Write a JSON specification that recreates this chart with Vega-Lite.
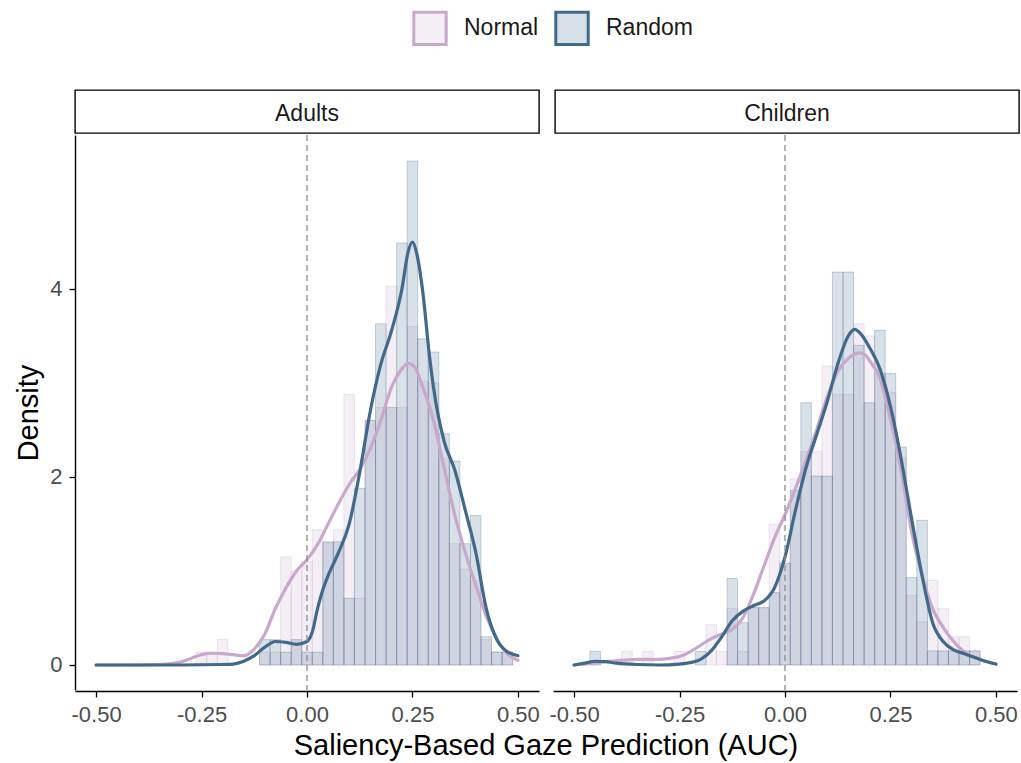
{
  "$schema": "https://vega.github.io/schema/vega-lite/v6.json",
  "background": "white",
  "padding": {"left": 14, "top": 10, "right": 0, "bottom": 0},
  "datasets": {
    "strips": [{"group": "Adults"}, {"group": "Children"}],
    "auc": [
      {"group": "Adults", "series": "Normal", "kind": "bar", "lo": -0.2625, "hi": -0.2375, "density": 0.137},
      {"group": "Adults", "series": "Normal", "kind": "bar", "lo": -0.2375, "hi": -0.2125, "density": 0.137},
      {"group": "Adults", "series": "Normal", "kind": "bar", "lo": -0.2125, "hi": -0.1875, "density": 0.274},
      {"group": "Adults", "series": "Normal", "kind": "bar", "lo": -0.1125, "hi": -0.0875, "density": 0.137},
      {"group": "Adults", "series": "Normal", "kind": "bar", "lo": -0.0875, "hi": -0.0625, "density": 0.137},
      {"group": "Adults", "series": "Normal", "kind": "bar", "lo": -0.0625, "hi": -0.0375, "density": 1.15},
      {"group": "Adults", "series": "Normal", "kind": "bar", "lo": -0.0375, "hi": -0.0125, "density": 1.0},
      {"group": "Adults", "series": "Normal", "kind": "bar", "lo": -0.0125, "hi": 0.0125, "density": 1.1},
      {"group": "Adults", "series": "Normal", "kind": "bar", "lo": 0.0125, "hi": 0.0375, "density": 1.44},
      {"group": "Adults", "series": "Normal", "kind": "bar", "lo": 0.0375, "hi": 0.0625, "density": 1.3},
      {"group": "Adults", "series": "Normal", "kind": "bar", "lo": 0.0625, "hi": 0.0875, "density": 1.44},
      {"group": "Adults", "series": "Normal", "kind": "bar", "lo": 0.0875, "hi": 0.1125, "density": 2.88},
      {"group": "Adults", "series": "Normal", "kind": "bar", "lo": 0.1125, "hi": 0.1375, "density": 0.71},
      {"group": "Adults", "series": "Normal", "kind": "bar", "lo": 0.1375, "hi": 0.1625, "density": 2.6},
      {"group": "Adults", "series": "Normal", "kind": "bar", "lo": 0.1625, "hi": 0.1875, "density": 2.74},
      {"group": "Adults", "series": "Normal", "kind": "bar", "lo": 0.1875, "hi": 0.2125, "density": 4.03},
      {"group": "Adults", "series": "Normal", "kind": "bar", "lo": 0.2125, "hi": 0.2375, "density": 2.74},
      {"group": "Adults", "series": "Normal", "kind": "bar", "lo": 0.2375, "hi": 0.2625, "density": 3.6},
      {"group": "Adults", "series": "Normal", "kind": "bar", "lo": 0.2625, "hi": 0.2875, "density": 3.02},
      {"group": "Adults", "series": "Normal", "kind": "bar", "lo": 0.2875, "hi": 0.3125, "density": 3.0},
      {"group": "Adults", "series": "Normal", "kind": "bar", "lo": 0.3125, "hi": 0.3375, "density": 2.2},
      {"group": "Adults", "series": "Normal", "kind": "bar", "lo": 0.3375, "hi": 0.3625, "density": 1.29},
      {"group": "Adults", "series": "Normal", "kind": "bar", "lo": 0.3625, "hi": 0.3875, "density": 1.02},
      {"group": "Adults", "series": "Normal", "kind": "bar", "lo": 0.3875, "hi": 0.4125, "density": 0.9},
      {"group": "Adults", "series": "Normal", "kind": "bar", "lo": 0.4125, "hi": 0.4375, "density": 0.27},
      {"group": "Adults", "series": "Normal", "kind": "bar", "lo": 0.4375, "hi": 0.4625, "density": 0.14},
      {"group": "Adults", "series": "Normal", "kind": "bar", "lo": 0.4625, "hi": 0.4875, "density": 0.14},

      {"group": "Children", "series": "Normal", "kind": "bar", "lo": -0.3875, "hi": -0.3625, "density": 0.145},
      {"group": "Children", "series": "Normal", "kind": "bar", "lo": -0.3375, "hi": -0.3125, "density": 0.145},
      {"group": "Children", "series": "Normal", "kind": "bar", "lo": -0.2625, "hi": -0.2375, "density": 0.145},
      {"group": "Children", "series": "Normal", "kind": "bar", "lo": -0.1875, "hi": -0.1625, "density": 0.43},
      {"group": "Children", "series": "Normal", "kind": "bar", "lo": -0.1625, "hi": -0.1375, "density": 0.145},
      {"group": "Children", "series": "Normal", "kind": "bar", "lo": -0.1375, "hi": -0.1125, "density": 0.6},
      {"group": "Children", "series": "Normal", "kind": "bar", "lo": -0.1125, "hi": -0.0875, "density": 0.145},
      {"group": "Children", "series": "Normal", "kind": "bar", "lo": -0.0875, "hi": -0.0625, "density": 0.61},
      {"group": "Children", "series": "Normal", "kind": "bar", "lo": -0.0625, "hi": -0.0375, "density": 0.61},
      {"group": "Children", "series": "Normal", "kind": "bar", "lo": -0.0375, "hi": -0.0125, "density": 1.5},
      {"group": "Children", "series": "Normal", "kind": "bar", "lo": -0.0125, "hi": 0.0125, "density": 1.1},
      {"group": "Children", "series": "Normal", "kind": "bar", "lo": 0.0125, "hi": 0.0375, "density": 1.98},
      {"group": "Children", "series": "Normal", "kind": "bar", "lo": 0.0375, "hi": 0.0625, "density": 2.27},
      {"group": "Children", "series": "Normal", "kind": "bar", "lo": 0.0625, "hi": 0.0875, "density": 2.27},
      {"group": "Children", "series": "Normal", "kind": "bar", "lo": 0.0875, "hi": 0.1125, "density": 3.18},
      {"group": "Children", "series": "Normal", "kind": "bar", "lo": 0.1125, "hi": 0.1375, "density": 2.88},
      {"group": "Children", "series": "Normal", "kind": "bar", "lo": 0.1375, "hi": 0.1625, "density": 2.88},
      {"group": "Children", "series": "Normal", "kind": "bar", "lo": 0.1625, "hi": 0.1875, "density": 3.63},
      {"group": "Children", "series": "Normal", "kind": "bar", "lo": 0.1875, "hi": 0.2125, "density": 3.5},
      {"group": "Children", "series": "Normal", "kind": "bar", "lo": 0.2125, "hi": 0.2375, "density": 3.1},
      {"group": "Children", "series": "Normal", "kind": "bar", "lo": 0.2375, "hi": 0.2625, "density": 2.9},
      {"group": "Children", "series": "Normal", "kind": "bar", "lo": 0.2625, "hi": 0.2875, "density": 2.2},
      {"group": "Children", "series": "Normal", "kind": "bar", "lo": 0.2875, "hi": 0.3125, "density": 0.74},
      {"group": "Children", "series": "Normal", "kind": "bar", "lo": 0.3125, "hi": 0.3375, "density": 0.46},
      {"group": "Children", "series": "Normal", "kind": "bar", "lo": 0.3375, "hi": 0.3625, "density": 0.9},
      {"group": "Children", "series": "Normal", "kind": "bar", "lo": 0.3625, "hi": 0.3875, "density": 0.6},
      {"group": "Children", "series": "Normal", "kind": "bar", "lo": 0.3875, "hi": 0.4125, "density": 0.3},
      {"group": "Children", "series": "Normal", "kind": "bar", "lo": 0.4125, "hi": 0.4375, "density": 0.3},
      {"group": "Children", "series": "Normal", "kind": "bar", "lo": 0.4375, "hi": 0.4625, "density": 0.15},

      {"group": "Adults", "series": "Random", "kind": "bar", "lo": -0.1125, "hi": -0.0875, "density": 0.27},
      {"group": "Adults", "series": "Random", "kind": "bar", "lo": -0.0875, "hi": -0.0625, "density": 0.27},
      {"group": "Adults", "series": "Random", "kind": "bar", "lo": -0.0625, "hi": -0.0375, "density": 0.137},
      {"group": "Adults", "series": "Random", "kind": "bar", "lo": -0.0375, "hi": -0.0125, "density": 0.27},
      {"group": "Adults", "series": "Random", "kind": "bar", "lo": -0.0125, "hi": 0.0125, "density": 0.137},
      {"group": "Adults", "series": "Random", "kind": "bar", "lo": 0.0125, "hi": 0.0375, "density": 0.137},
      {"group": "Adults", "series": "Random", "kind": "bar", "lo": 0.0375, "hi": 0.0625, "density": 1.31},
      {"group": "Adults", "series": "Random", "kind": "bar", "lo": 0.0625, "hi": 0.0875, "density": 1.31},
      {"group": "Adults", "series": "Random", "kind": "bar", "lo": 0.0875, "hi": 0.1125, "density": 0.71},
      {"group": "Adults", "series": "Random", "kind": "bar", "lo": 0.1125, "hi": 0.1375, "density": 1.88},
      {"group": "Adults", "series": "Random", "kind": "bar", "lo": 0.1375, "hi": 0.1625, "density": 2.6},
      {"group": "Adults", "series": "Random", "kind": "bar", "lo": 0.1625, "hi": 0.1875, "density": 3.63},
      {"group": "Adults", "series": "Random", "kind": "bar", "lo": 0.1875, "hi": 0.2125, "density": 2.74},
      {"group": "Adults", "series": "Random", "kind": "bar", "lo": 0.2125, "hi": 0.2375, "density": 4.49},
      {"group": "Adults", "series": "Random", "kind": "bar", "lo": 0.2375, "hi": 0.2625, "density": 5.36},
      {"group": "Adults", "series": "Random", "kind": "bar", "lo": 0.2625, "hi": 0.2875, "density": 3.47},
      {"group": "Adults", "series": "Random", "kind": "bar", "lo": 0.2875, "hi": 0.3125, "density": 3.33},
      {"group": "Adults", "series": "Random", "kind": "bar", "lo": 0.3125, "hi": 0.3375, "density": 2.46},
      {"group": "Adults", "series": "Random", "kind": "bar", "lo": 0.3375, "hi": 0.3625, "density": 2.17},
      {"group": "Adults", "series": "Random", "kind": "bar", "lo": 0.3625, "hi": 0.3875, "density": 1.29},
      {"group": "Adults", "series": "Random", "kind": "bar", "lo": 0.3875, "hi": 0.4125, "density": 1.59},
      {"group": "Adults", "series": "Random", "kind": "bar", "lo": 0.4125, "hi": 0.4375, "density": 0.3},
      {"group": "Adults", "series": "Random", "kind": "bar", "lo": 0.4375, "hi": 0.4625, "density": 0.137},
      {"group": "Adults", "series": "Random", "kind": "bar", "lo": 0.4625, "hi": 0.4875, "density": 0.137},

      {"group": "Children", "series": "Random", "kind": "bar", "lo": -0.4625, "hi": -0.4375, "density": 0.145},
      {"group": "Children", "series": "Random", "kind": "bar", "lo": -0.2125, "hi": -0.1875, "density": 0.145},
      {"group": "Children", "series": "Random", "kind": "bar", "lo": -0.1375, "hi": -0.1125, "density": 0.92},
      {"group": "Children", "series": "Random", "kind": "bar", "lo": -0.1125, "hi": -0.0875, "density": 0.45},
      {"group": "Children", "series": "Random", "kind": "bar", "lo": -0.0875, "hi": -0.0625, "density": 0.61},
      {"group": "Children", "series": "Random", "kind": "bar", "lo": -0.0625, "hi": -0.0375, "density": 0.61},
      {"group": "Children", "series": "Random", "kind": "bar", "lo": -0.0375, "hi": -0.0125, "density": 0.77},
      {"group": "Children", "series": "Random", "kind": "bar", "lo": -0.0125, "hi": 0.0125, "density": 1.08},
      {"group": "Children", "series": "Random", "kind": "bar", "lo": 0.0125, "hi": 0.0375, "density": 1.86},
      {"group": "Children", "series": "Random", "kind": "bar", "lo": 0.0375, "hi": 0.0625, "density": 2.79},
      {"group": "Children", "series": "Random", "kind": "bar", "lo": 0.0625, "hi": 0.0875, "density": 2.01},
      {"group": "Children", "series": "Random", "kind": "bar", "lo": 0.0875, "hi": 0.1125, "density": 2.01},
      {"group": "Children", "series": "Random", "kind": "bar", "lo": 0.1125, "hi": 0.1375, "density": 4.18},
      {"group": "Children", "series": "Random", "kind": "bar", "lo": 0.1375, "hi": 0.1625, "density": 4.18},
      {"group": "Children", "series": "Random", "kind": "bar", "lo": 0.1625, "hi": 0.1875, "density": 3.4},
      {"group": "Children", "series": "Random", "kind": "bar", "lo": 0.1875, "hi": 0.2125, "density": 2.79},
      {"group": "Children", "series": "Random", "kind": "bar", "lo": 0.2125, "hi": 0.2375, "density": 3.56},
      {"group": "Children", "series": "Random", "kind": "bar", "lo": 0.2375, "hi": 0.2625, "density": 3.1},
      {"group": "Children", "series": "Random", "kind": "bar", "lo": 0.2625, "hi": 0.2875, "density": 2.32},
      {"group": "Children", "series": "Random", "kind": "bar", "lo": 0.2875, "hi": 0.3125, "density": 0.93},
      {"group": "Children", "series": "Random", "kind": "bar", "lo": 0.3125, "hi": 0.3375, "density": 1.54},
      {"group": "Children", "series": "Random", "kind": "bar", "lo": 0.3375, "hi": 0.3625, "density": 0.15},
      {"group": "Children", "series": "Random", "kind": "bar", "lo": 0.3625, "hi": 0.3875, "density": 0.15},
      {"group": "Children", "series": "Random", "kind": "bar", "lo": 0.3875, "hi": 0.4125, "density": 0.15},
      {"group": "Children", "series": "Random", "kind": "bar", "lo": 0.4125, "hi": 0.4375, "density": 0.15},
      {"group": "Children", "series": "Random", "kind": "bar", "lo": 0.4375, "hi": 0.4625, "density": 0.15},

      {"group": "Adults", "series": "Normal", "kind": "curve", "auc": -0.5, "density": 0},
      {"group": "Adults", "series": "Normal", "kind": "curve", "auc": -0.4, "density": 0},
      {"group": "Adults", "series": "Normal", "kind": "curve", "auc": -0.35, "density": 0.005},
      {"group": "Adults", "series": "Normal", "kind": "curve", "auc": -0.3, "density": 0.03},
      {"group": "Adults", "series": "Normal", "kind": "curve", "auc": -0.275, "density": 0.07},
      {"group": "Adults", "series": "Normal", "kind": "curve", "auc": -0.25, "density": 0.11},
      {"group": "Adults", "series": "Normal", "kind": "curve", "auc": -0.225, "density": 0.125},
      {"group": "Adults", "series": "Normal", "kind": "curve", "auc": -0.2, "density": 0.12},
      {"group": "Adults", "series": "Normal", "kind": "curve", "auc": -0.175, "density": 0.11},
      {"group": "Adults", "series": "Normal", "kind": "curve", "auc": -0.15, "density": 0.1},
      {"group": "Adults", "series": "Normal", "kind": "curve", "auc": -0.125, "density": 0.17},
      {"group": "Adults", "series": "Normal", "kind": "curve", "auc": -0.1, "density": 0.33},
      {"group": "Adults", "series": "Normal", "kind": "curve", "auc": -0.075, "density": 0.6},
      {"group": "Adults", "series": "Normal", "kind": "curve", "auc": -0.05, "density": 0.82},
      {"group": "Adults", "series": "Normal", "kind": "curve", "auc": -0.025, "density": 1.0},
      {"group": "Adults", "series": "Normal", "kind": "curve", "auc": 0, "density": 1.12},
      {"group": "Adults", "series": "Normal", "kind": "curve", "auc": 0.025, "density": 1.28},
      {"group": "Adults", "series": "Normal", "kind": "curve", "auc": 0.05, "density": 1.5},
      {"group": "Adults", "series": "Normal", "kind": "curve", "auc": 0.075, "density": 1.72},
      {"group": "Adults", "series": "Normal", "kind": "curve", "auc": 0.1, "density": 1.92},
      {"group": "Adults", "series": "Normal", "kind": "curve", "auc": 0.125, "density": 2.08},
      {"group": "Adults", "series": "Normal", "kind": "curve", "auc": 0.15, "density": 2.3},
      {"group": "Adults", "series": "Normal", "kind": "curve", "auc": 0.175, "density": 2.6},
      {"group": "Adults", "series": "Normal", "kind": "curve", "auc": 0.2, "density": 2.95},
      {"group": "Adults", "series": "Normal", "kind": "curve", "auc": 0.225, "density": 3.15},
      {"group": "Adults", "series": "Normal", "kind": "curve", "auc": 0.24, "density": 3.21},
      {"group": "Adults", "series": "Normal", "kind": "curve", "auc": 0.255, "density": 3.17},
      {"group": "Adults", "series": "Normal", "kind": "curve", "auc": 0.275, "density": 2.95},
      {"group": "Adults", "series": "Normal", "kind": "curve", "auc": 0.3, "density": 2.6},
      {"group": "Adults", "series": "Normal", "kind": "curve", "auc": 0.325, "density": 2.1},
      {"group": "Adults", "series": "Normal", "kind": "curve", "auc": 0.35, "density": 1.6},
      {"group": "Adults", "series": "Normal", "kind": "curve", "auc": 0.375, "density": 1.2},
      {"group": "Adults", "series": "Normal", "kind": "curve", "auc": 0.4, "density": 0.85},
      {"group": "Adults", "series": "Normal", "kind": "curve", "auc": 0.425, "density": 0.52},
      {"group": "Adults", "series": "Normal", "kind": "curve", "auc": 0.45, "density": 0.28},
      {"group": "Adults", "series": "Normal", "kind": "curve", "auc": 0.475, "density": 0.12},
      {"group": "Adults", "series": "Normal", "kind": "curve", "auc": 0.5, "density": 0.05},

      {"group": "Children", "series": "Normal", "kind": "curve", "auc": -0.5, "density": 0.0},
      {"group": "Children", "series": "Normal", "kind": "curve", "auc": -0.475, "density": 0.01},
      {"group": "Children", "series": "Normal", "kind": "curve", "auc": -0.45, "density": 0.02},
      {"group": "Children", "series": "Normal", "kind": "curve", "auc": -0.425, "density": 0.035},
      {"group": "Children", "series": "Normal", "kind": "curve", "auc": -0.4, "density": 0.045},
      {"group": "Children", "series": "Normal", "kind": "curve", "auc": -0.375, "density": 0.055},
      {"group": "Children", "series": "Normal", "kind": "curve", "auc": -0.35, "density": 0.06},
      {"group": "Children", "series": "Normal", "kind": "curve", "auc": -0.3, "density": 0.06},
      {"group": "Children", "series": "Normal", "kind": "curve", "auc": -0.275, "density": 0.07},
      {"group": "Children", "series": "Normal", "kind": "curve", "auc": -0.25, "density": 0.09},
      {"group": "Children", "series": "Normal", "kind": "curve", "auc": -0.225, "density": 0.14},
      {"group": "Children", "series": "Normal", "kind": "curve", "auc": -0.2, "density": 0.21},
      {"group": "Children", "series": "Normal", "kind": "curve", "auc": -0.175, "density": 0.28},
      {"group": "Children", "series": "Normal", "kind": "curve", "auc": -0.15, "density": 0.33},
      {"group": "Children", "series": "Normal", "kind": "curve", "auc": -0.125, "density": 0.38},
      {"group": "Children", "series": "Normal", "kind": "curve", "auc": -0.1, "density": 0.5},
      {"group": "Children", "series": "Normal", "kind": "curve", "auc": -0.075, "density": 0.75},
      {"group": "Children", "series": "Normal", "kind": "curve", "auc": -0.05, "density": 1.05},
      {"group": "Children", "series": "Normal", "kind": "curve", "auc": -0.025, "density": 1.35},
      {"group": "Children", "series": "Normal", "kind": "curve", "auc": 0, "density": 1.6},
      {"group": "Children", "series": "Normal", "kind": "curve", "auc": 0.025, "density": 1.88},
      {"group": "Children", "series": "Normal", "kind": "curve", "auc": 0.05, "density": 2.18},
      {"group": "Children", "series": "Normal", "kind": "curve", "auc": 0.075, "density": 2.5},
      {"group": "Children", "series": "Normal", "kind": "curve", "auc": 0.1, "density": 2.85},
      {"group": "Children", "series": "Normal", "kind": "curve", "auc": 0.125, "density": 3.12},
      {"group": "Children", "series": "Normal", "kind": "curve", "auc": 0.15, "density": 3.26},
      {"group": "Children", "series": "Normal", "kind": "curve", "auc": 0.175, "density": 3.32},
      {"group": "Children", "series": "Normal", "kind": "curve", "auc": 0.19, "density": 3.3},
      {"group": "Children", "series": "Normal", "kind": "curve", "auc": 0.2, "density": 3.24},
      {"group": "Children", "series": "Normal", "kind": "curve", "auc": 0.225, "density": 3.05},
      {"group": "Children", "series": "Normal", "kind": "curve", "auc": 0.25, "density": 2.62},
      {"group": "Children", "series": "Normal", "kind": "curve", "auc": 0.275, "density": 2.08},
      {"group": "Children", "series": "Normal", "kind": "curve", "auc": 0.3, "density": 1.42},
      {"group": "Children", "series": "Normal", "kind": "curve", "auc": 0.325, "density": 0.95},
      {"group": "Children", "series": "Normal", "kind": "curve", "auc": 0.35, "density": 0.6},
      {"group": "Children", "series": "Normal", "kind": "curve", "auc": 0.375, "density": 0.4},
      {"group": "Children", "series": "Normal", "kind": "curve", "auc": 0.4, "density": 0.25},
      {"group": "Children", "series": "Normal", "kind": "curve", "auc": 0.425, "density": 0.14},
      {"group": "Children", "series": "Normal", "kind": "curve", "auc": 0.45, "density": 0.08},
      {"group": "Children", "series": "Normal", "kind": "curve", "auc": 0.475, "density": 0.04},
      {"group": "Children", "series": "Normal", "kind": "curve", "auc": 0.5, "density": 0.01},

      {"group": "Adults", "series": "Random", "kind": "curve", "auc": -0.5, "density": 0},
      {"group": "Adults", "series": "Random", "kind": "curve", "auc": -0.3, "density": 0},
      {"group": "Adults", "series": "Random", "kind": "curve", "auc": -0.2, "density": 0.005},
      {"group": "Adults", "series": "Random", "kind": "curve", "auc": -0.175, "density": 0.01},
      {"group": "Adults", "series": "Random", "kind": "curve", "auc": -0.15, "density": 0.04},
      {"group": "Adults", "series": "Random", "kind": "curve", "auc": -0.125, "density": 0.1},
      {"group": "Adults", "series": "Random", "kind": "curve", "auc": -0.1, "density": 0.19},
      {"group": "Adults", "series": "Random", "kind": "curve", "auc": -0.075, "density": 0.25},
      {"group": "Adults", "series": "Random", "kind": "curve", "auc": -0.05, "density": 0.24},
      {"group": "Adults", "series": "Random", "kind": "curve", "auc": -0.025, "density": 0.22},
      {"group": "Adults", "series": "Random", "kind": "curve", "auc": 0, "density": 0.25},
      {"group": "Adults", "series": "Random", "kind": "curve", "auc": 0.0125, "density": 0.35},
      {"group": "Adults", "series": "Random", "kind": "curve", "auc": 0.025, "density": 0.6},
      {"group": "Adults", "series": "Random", "kind": "curve", "auc": 0.0375, "density": 0.8},
      {"group": "Adults", "series": "Random", "kind": "curve", "auc": 0.05, "density": 0.95},
      {"group": "Adults", "series": "Random", "kind": "curve", "auc": 0.075, "density": 1.2},
      {"group": "Adults", "series": "Random", "kind": "curve", "auc": 0.1, "density": 1.5},
      {"group": "Adults", "series": "Random", "kind": "curve", "auc": 0.125, "density": 2.05},
      {"group": "Adults", "series": "Random", "kind": "curve", "auc": 0.15, "density": 2.7},
      {"group": "Adults", "series": "Random", "kind": "curve", "auc": 0.175, "density": 3.2},
      {"group": "Adults", "series": "Random", "kind": "curve", "auc": 0.2, "density": 3.55},
      {"group": "Adults", "series": "Random", "kind": "curve", "auc": 0.225, "density": 4.0},
      {"group": "Adults", "series": "Random", "kind": "curve", "auc": 0.24, "density": 4.4},
      {"group": "Adults", "series": "Random", "kind": "curve", "auc": 0.25, "density": 4.5},
      {"group": "Adults", "series": "Random", "kind": "curve", "auc": 0.26, "density": 4.38},
      {"group": "Adults", "series": "Random", "kind": "curve", "auc": 0.275, "density": 3.95},
      {"group": "Adults", "series": "Random", "kind": "curve", "auc": 0.29, "density": 3.3},
      {"group": "Adults", "series": "Random", "kind": "curve", "auc": 0.3, "density": 2.95},
      {"group": "Adults", "series": "Random", "kind": "curve", "auc": 0.325, "density": 2.38},
      {"group": "Adults", "series": "Random", "kind": "curve", "auc": 0.35, "density": 2.08},
      {"group": "Adults", "series": "Random", "kind": "curve", "auc": 0.375, "density": 1.65},
      {"group": "Adults", "series": "Random", "kind": "curve", "auc": 0.4, "density": 1.2},
      {"group": "Adults", "series": "Random", "kind": "curve", "auc": 0.425, "density": 0.6},
      {"group": "Adults", "series": "Random", "kind": "curve", "auc": 0.45, "density": 0.27},
      {"group": "Adults", "series": "Random", "kind": "curve", "auc": 0.475, "density": 0.14},
      {"group": "Adults", "series": "Random", "kind": "curve", "auc": 0.5, "density": 0.1},

      {"group": "Children", "series": "Random", "kind": "curve", "auc": -0.5, "density": 0.0},
      {"group": "Children", "series": "Random", "kind": "curve", "auc": -0.475, "density": 0.02},
      {"group": "Children", "series": "Random", "kind": "curve", "auc": -0.45, "density": 0.04},
      {"group": "Children", "series": "Random", "kind": "curve", "auc": -0.425, "density": 0.035},
      {"group": "Children", "series": "Random", "kind": "curve", "auc": -0.4, "density": 0.02},
      {"group": "Children", "series": "Random", "kind": "curve", "auc": -0.35, "density": 0.005},
      {"group": "Children", "series": "Random", "kind": "curve", "auc": -0.3, "density": 0.0},
      {"group": "Children", "series": "Random", "kind": "curve", "auc": -0.25, "density": 0.01},
      {"group": "Children", "series": "Random", "kind": "curve", "auc": -0.225, "density": 0.025},
      {"group": "Children", "series": "Random", "kind": "curve", "auc": -0.2, "density": 0.06},
      {"group": "Children", "series": "Random", "kind": "curve", "auc": -0.175, "density": 0.15},
      {"group": "Children", "series": "Random", "kind": "curve", "auc": -0.15, "density": 0.3},
      {"group": "Children", "series": "Random", "kind": "curve", "auc": -0.125, "density": 0.47},
      {"group": "Children", "series": "Random", "kind": "curve", "auc": -0.1, "density": 0.57},
      {"group": "Children", "series": "Random", "kind": "curve", "auc": -0.075, "density": 0.63},
      {"group": "Children", "series": "Random", "kind": "curve", "auc": -0.05, "density": 0.68},
      {"group": "Children", "series": "Random", "kind": "curve", "auc": -0.025, "density": 0.82},
      {"group": "Children", "series": "Random", "kind": "curve", "auc": 0, "density": 1.15},
      {"group": "Children", "series": "Random", "kind": "curve", "auc": 0.025, "density": 1.65},
      {"group": "Children", "series": "Random", "kind": "curve", "auc": 0.05, "density": 2.1},
      {"group": "Children", "series": "Random", "kind": "curve", "auc": 0.075, "density": 2.45},
      {"group": "Children", "series": "Random", "kind": "curve", "auc": 0.1, "density": 2.8},
      {"group": "Children", "series": "Random", "kind": "curve", "auc": 0.125, "density": 3.2},
      {"group": "Children", "series": "Random", "kind": "curve", "auc": 0.15, "density": 3.5},
      {"group": "Children", "series": "Random", "kind": "curve", "auc": 0.165, "density": 3.57},
      {"group": "Children", "series": "Random", "kind": "curve", "auc": 0.18, "density": 3.52},
      {"group": "Children", "series": "Random", "kind": "curve", "auc": 0.2, "density": 3.38},
      {"group": "Children", "series": "Random", "kind": "curve", "auc": 0.225, "density": 3.15},
      {"group": "Children", "series": "Random", "kind": "curve", "auc": 0.25, "density": 2.75},
      {"group": "Children", "series": "Random", "kind": "curve", "auc": 0.275, "density": 2.2},
      {"group": "Children", "series": "Random", "kind": "curve", "auc": 0.3, "density": 1.56},
      {"group": "Children", "series": "Random", "kind": "curve", "auc": 0.325, "density": 0.95},
      {"group": "Children", "series": "Random", "kind": "curve", "auc": 0.35, "density": 0.45},
      {"group": "Children", "series": "Random", "kind": "curve", "auc": 0.375, "density": 0.25},
      {"group": "Children", "series": "Random", "kind": "curve", "auc": 0.4, "density": 0.16},
      {"group": "Children", "series": "Random", "kind": "curve", "auc": 0.425, "density": 0.12},
      {"group": "Children", "series": "Random", "kind": "curve", "auc": 0.45, "density": 0.08},
      {"group": "Children", "series": "Random", "kind": "curve", "auc": 0.475, "density": 0.04},
      {"group": "Children", "series": "Random", "kind": "curve", "auc": 0.5, "density": 0.01},

      {"group": "Adults", "kind": "ref", "auc": 0},
      {"group": "Children", "kind": "ref", "auc": 0}
    ]
  },
  "vconcat": [
    {
      "data": {"name": "strips"},
      "facet": {
        "column": {"field": "group", "type": "nominal", "header": {"labels": false, "title": null}}
      },
      "spacing": 14,
      "spec": {
        "width": 464,
        "height": 43,
        "view": {"stroke": "black", "strokeWidth": 1.4, "fill": "white"},
        "mark": {"type": "text", "fontSize": 23, "color": "#1a1a1a", "baseline": "middle", "align": "center", "dy": 2},
        "encoding": {"text": {"field": "group", "type": "nominal"}}
      }
    },
    {
      "data": {"name": "auc"},
      "facet": {
        "column": {
          "field": "group",
          "type": "nominal",
          "header": {
            "labels": false,
            "title": "Saliency-Based Gaze Prediction (AUC)",
            "titleOrient": "bottom",
            "titleFontSize": 29,
            "titleFontWeight": "normal",
            "titleColor": "black",
            "titlePadding": -3
          }
        }
      },
      "spacing": 14,
      "spec": {
        "width": 464,
        "height": 555,
        "layer": [
          {
            "transform": [{"filter": "datum.kind === 'bar'"}],
            "mark": {"type": "bar", "fillOpacity": 0.2, "strokeOpacity": 0.4, "strokeWidth": 0.7},
            "encoding": {
              "x": {
                "field": "lo",
                "type": "quantitative",
                "scale": {"domain": [-0.55, 0.55], "nice": false, "zero": false},
                "axis": {
                  "title": null,
                  "values": [-0.5, -0.25, 0, 0.25, 0.5],
                  "labelExpr": "replace(format(datum.value, '.2f'), '\u2212', '-')",
                  "labelOverlap": false,
                  "labelFlush": false
                }
              },
              "x2": {"field": "hi"},
              "y": {
                "field": "density",
                "type": "quantitative",
                "scale": {"domain": [-0.266, 5.638], "nice": false, "zero": false},
                "axis": {"title": "Density", "values": [0, 2, 4], "format": "d"}
              },
              "y2": {"datum": 0},
              "fill": {
                "field": "series",
                "type": "nominal",
                "title": null,
                "scale": {"domain": ["Normal", "Random"], "range": ["#c9a8cb", "#41698a"]},
                "legend": {"encode": {"symbols": {"update": {"fillOpacity": {"value": 0.2}, "strokeOpacity": {"value": 1}, "opacity": {"value": 1}}}}}
              },
              "stroke": {
                "field": "series",
                "type": "nominal",
                "title": null,
                "scale": {"domain": ["Normal", "Random"], "range": ["#c9a8cb", "#41698a"]},
                "legend": {"encode": {"symbols": {"update": {"fillOpacity": {"value": 0.2}, "strokeOpacity": {"value": 1}, "opacity": {"value": 1}}}}}
              }
            }
          },
          {
            "transform": [{"filter": "datum.kind === 'curve'"}],
            "mark": {"type": "line", "interpolate": "monotone", "strokeWidth": 3.2, "strokeCap": "round"},
            "encoding": {
              "x": {"field": "auc", "type": "quantitative"},
              "y": {"field": "density", "type": "quantitative"},
              "stroke": {
                "field": "series",
                "type": "nominal",
                "title": null,
                "legend": {"encode": {"symbols": {"update": {"fillOpacity": {"value": 0.2}, "strokeOpacity": {"value": 1}, "opacity": {"value": 1}}}}}
              }
            }
          },
          {
            "transform": [{"filter": "datum.kind === 'ref'"}],
            "mark": {"type": "rule", "color": "#8c8c8c", "strokeWidth": 1.3, "strokeDash": [6, 4]},
            "encoding": {"x": {"field": "auc", "type": "quantitative"}}
          }
        ]
      }
    }
  ],
  "spacing": 0,
  "config": {
    "font": "Liberation Sans",
    "view": {"stroke": null},
    "axis": {
      "grid": false,
      "domainColor": "black",
      "domainWidth": 1.4,
      "tickColor": "black",
      "tickWidth": 1.3,
      "tickSize": 6,
      "labelColor": "#4d4d4d",
      "labelFontSize": 22,
      "labelPadding": 7,
      "titleFontSize": 29,
      "titleFontWeight": "normal",
      "titleColor": "black"
    },
    "axisY": {"titlePadding": 6},
    "legend": {
      "orient": "none",
      "legendX": 337,
      "legendY": -80,
      "direction": "horizontal",
      "symbolType": "square",
      "symbolSize": 1050,
      "symbolStrokeWidth": 3,
      "labelFontSize": 23,
      "labelColor": "#1a1a1a",
      "labelOffset": 16,
      "columnPadding": 10,
      "padding": 0
    }
  }
}
